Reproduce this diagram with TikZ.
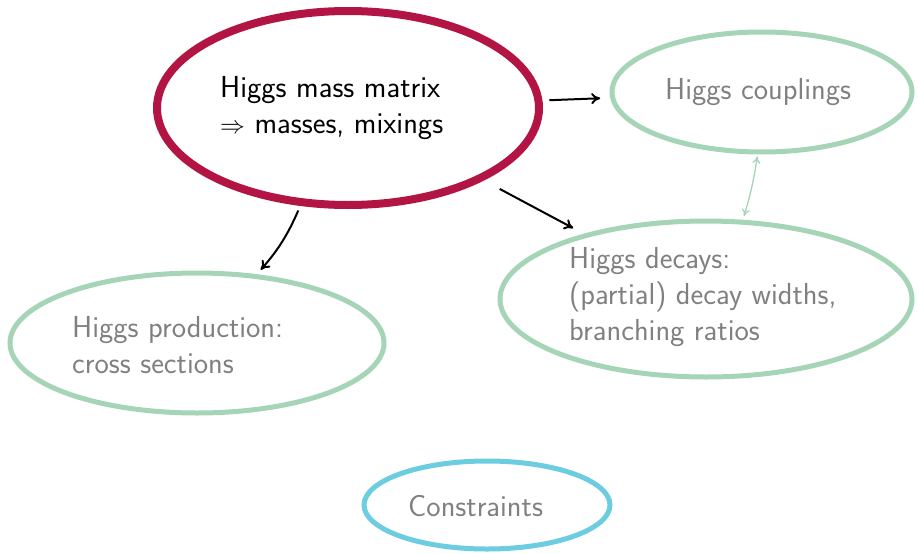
\documentclass[tikz,border=0pt]{standalone}
\usetikzlibrary{shapes.geometric,arrows.meta}
\definecolor{mainred}{RGB}{178,20,68}
\definecolor{softgreen}{RGB}{166,212,182}
\definecolor{softcyan}{RGB}{108,204,224}
\definecolor{txtgrey}{RGB}{128,128,128}
\begin{document}
\begin{tikzpicture}[x=1pt,y=-1pt,
  bubble/.style={ellipse,draw,inner sep=0pt},
  mainbub/.style={bubble,draw=mainred,line width=8pt},
  greenbub/.style={bubble,draw=softgreen,line width=5pt},
  cyanbub/.style={bubble,draw=softcyan,line width=5pt},
  txt/.style={anchor=west,align=left,inner sep=0pt,font=\sffamily\fontsize{30.4}{36}\selectfont,text=txtgrey},
  conn/.style={line width=2pt,-{To[length=9pt,width=11pt]}},
  link/.style={line width=1.3pt,draw=softgreen,{To[length=7pt,width=8pt]}-{To[length=7pt,width=8pt]}}]
\useasboundingbox (0,0) rectangle (918,554);
\node[mainbub,minimum width=382pt,minimum height=194pt] (mass) at (348,108) {};
\node[greenbub,minimum width=300pt,minimum height=120pt] (coup) at (762,92) {};
\node[greenbub,minimum width=412pt,minimum height=156pt] (dec) at (706,299) {};
\node[greenbub,minimum width=374pt,minimum height=140pt] (prod) at (197,343) {};
\node[cyanbub,minimum width=246pt,minimum height=88pt] (cons) at (487,505) {};
\node[txt,text=black] (masst) at (220,108) {Higgs mass matrix\\$\Rightarrow$ masses, mixings};
\node[txt] (coupt) at (665,92) {Higgs couplings};
\node[txt] (dect) at (569,297) {Higgs decays:\\(partial) decay widths,\\branching ratios};
\node[txt] (prodt) at (72,345) {Higgs production:\\cross sections};
\node[txt] (const) at (408,506) {Constraints};
\draw[conn,shorten <=7pt,shorten >=10pt] (mass) -- (coup);
\draw[conn,shorten <=18pt,shorten >=12pt] (mass) -- (dec);
\draw[conn,shorten <=5pt,shorten >=6pt] (mass.-116) to[bend left=9] (prod.49);
\draw[link,shorten <=2pt,shorten >=4pt] (coup.-94) to[bend left=4] (dec.65);
\end{tikzpicture}
\end{document}
